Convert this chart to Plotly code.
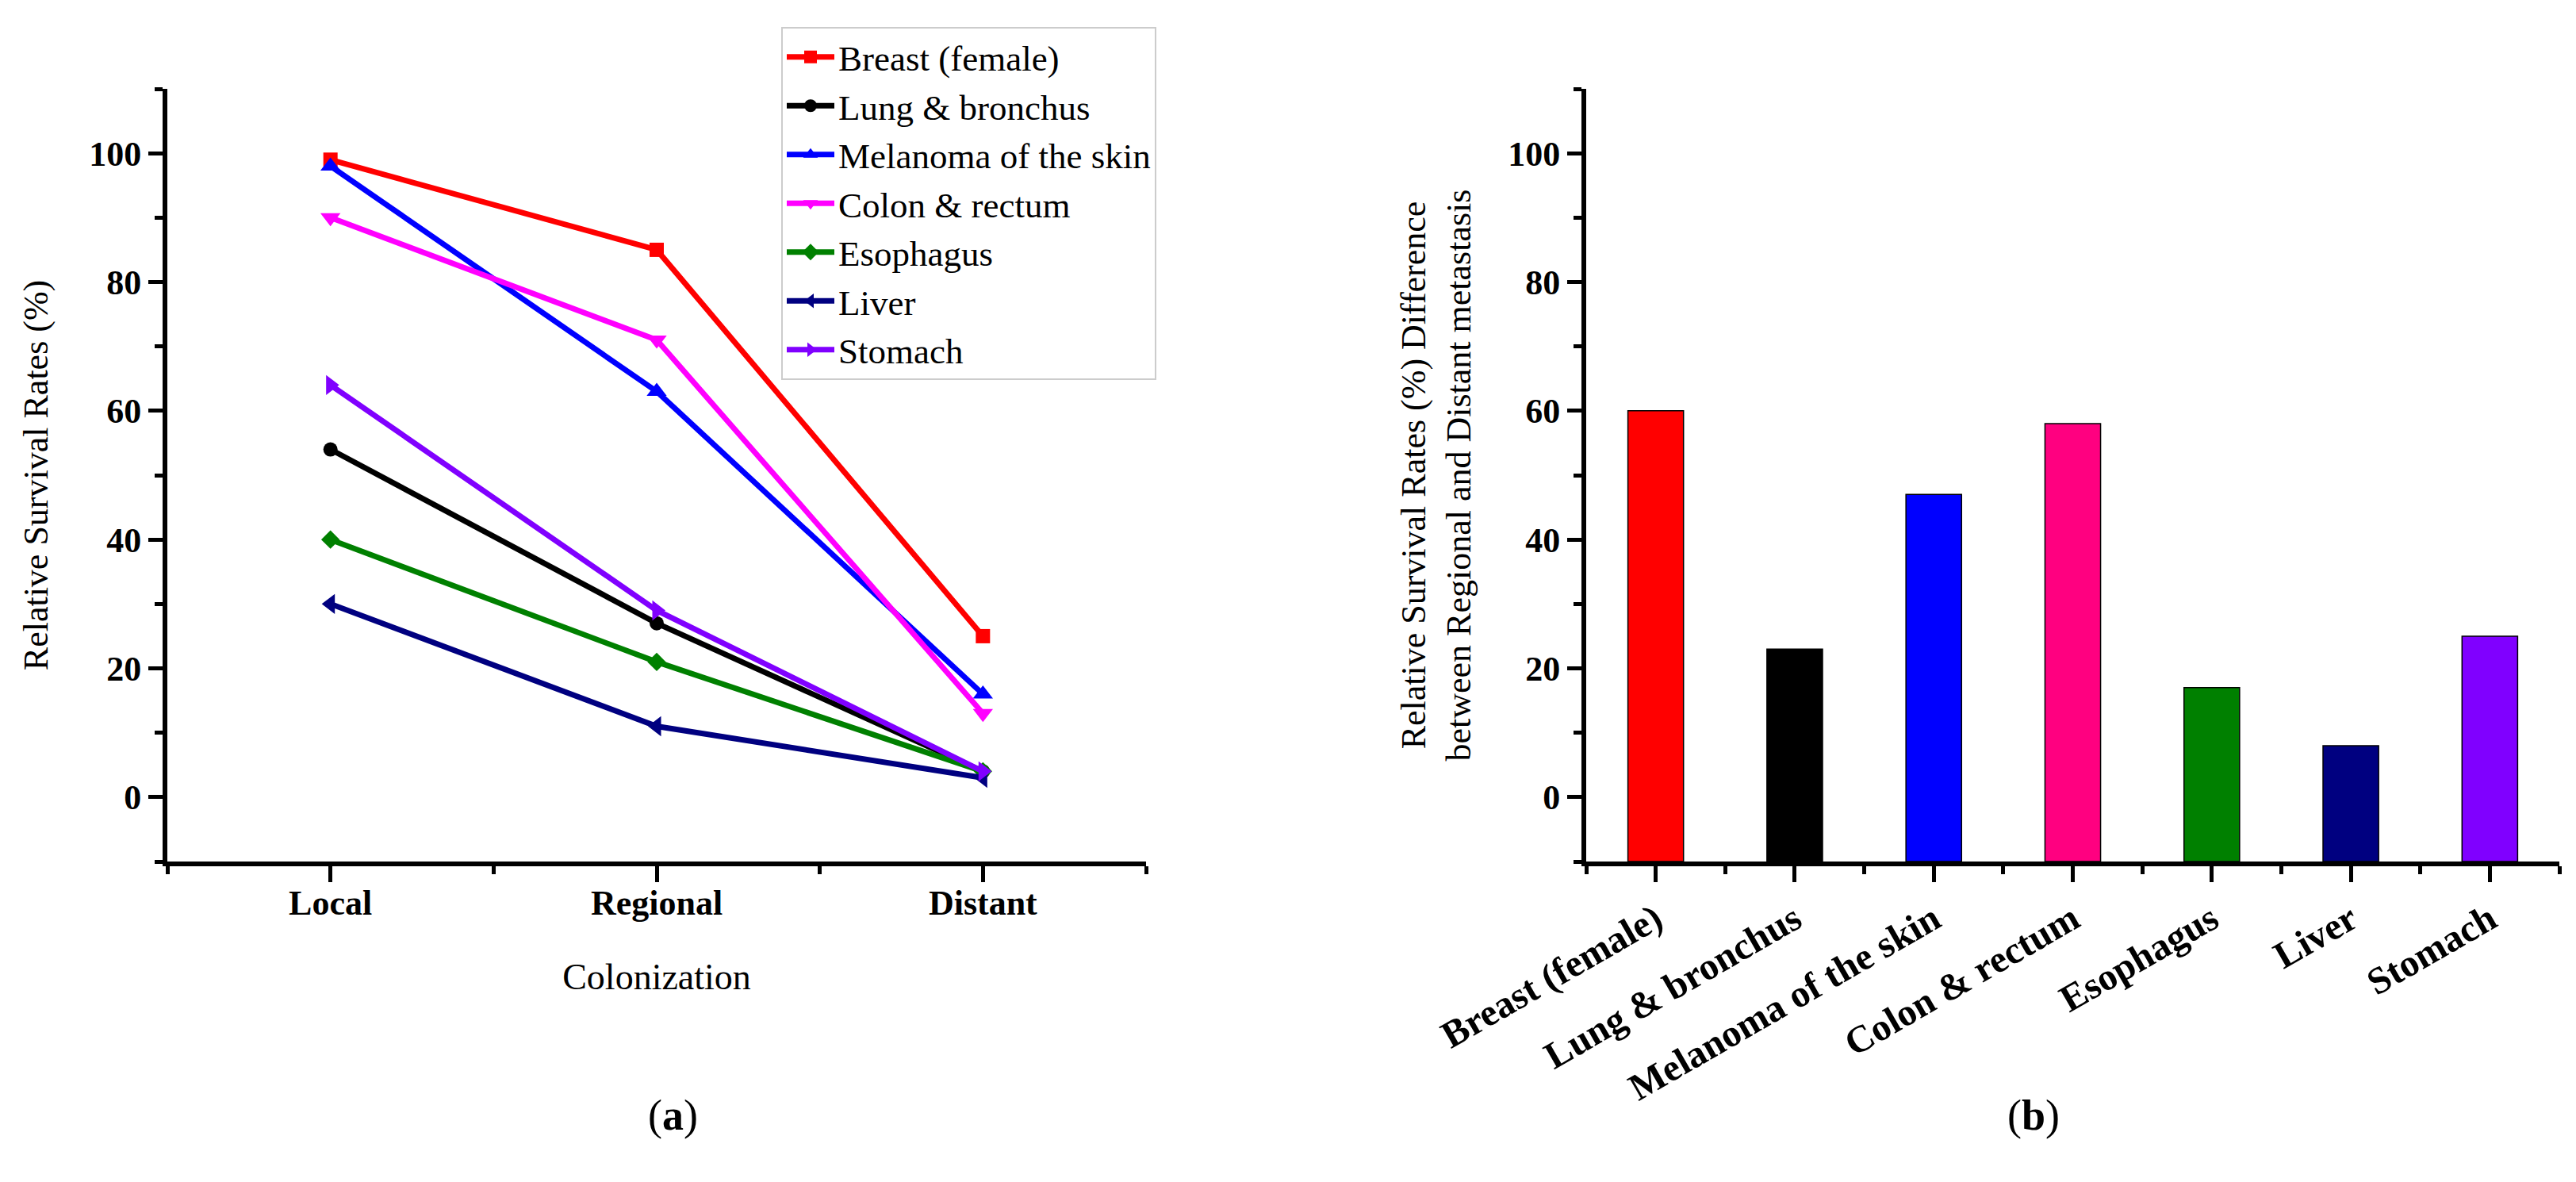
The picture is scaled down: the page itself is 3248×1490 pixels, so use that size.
import plotly.graph_objects as go

# ---------------- data ----------------
stages = ["Local", "Regional", "Distant"]
cancers = ["Breast (female)", "Lung & bronchus", "Melanoma of the skin",
           "Colon & rectum", "Esophagus", "Liver", "Stomach"]

breast = [99, 85, 25]
lung = [54, 27, 4]
melanoma = [98, 63, 16]
colon = [90, 71, 13]
esophagus = [40, 21, 4]
liver = [30, 11, 3]
stomach = [64, 29, 4]

# difference between Regional and Distant survival rates
difference = [60, 23, 47, 58, 17, 8, 25]

y_ticks = [0, 20, 40, 60, 80, 100]
y_range = [-10, 110]

# ---------------- styles ----------------
series = [breast, lung, melanoma, colon, esophagus, liver, stomach]
line_colors = ["#FF0000", "#000000", "#0000FF", "#FF00FF", "#008000", "#000080", "#8000FF"]
bar_colors = ["#FF0000", "#000000", "#0000FF", "#FF0080", "#008000", "#000080", "#8000FF"]
symbols = ["square", "circle", "triangle-up", "triangle-down", "diamond",
           "triangle-left", "triangle-right"]
marker_sizes = [18, 18, 22, 22, 18, 22, 22]

W, H = 3248, 1490
FONT = "Liberation Serif"

fig = go.Figure()

xs_stage = list(range(len(stages)))
for name, vals, col, sym, ms in zip(cancers, series, line_colors, symbols, marker_sizes):
    fig.add_trace(go.Scatter(
        x=xs_stage, y=vals, name=name, mode="lines+markers",
        line=dict(color=col, width=7),
        marker=dict(symbol=sym, size=ms, color=col),
        xaxis="x", yaxis="y",
    ))

# bars rise from the bottom of the axis (as in the original Origin plot)
xs_cancer = list(range(len(cancers)))
bar_base = y_range[0]
fig.add_trace(go.Bar(
    x=xs_cancer, y=[d - bar_base for d in difference], base=bar_base,
    width=0.4, showlegend=False,
    marker=dict(color=bar_colors, line=dict(color="#000000", width=1.5)),
    xaxis="x2", yaxis="y2",
))

y_dom = [1 - 1078 / H, 1 - 104 / H]

axis_common = dict(
    showline=True, linewidth=6, linecolor="#000000",
    ticks="outside", tickwidth=5, tickcolor="#000000",
    showgrid=False, zeroline=False, automargin=False,
)

fig.update_layout(
    width=W, height=H,
    margin=dict(l=0, r=0, t=0, b=0),
    paper_bgcolor="white", plot_bgcolor="white",
    font=dict(family=FONT, color="#000000"),
    xaxis=dict(
        domain=[203 / W, 1437 / W], anchor="y",
        range=[-0.5, 2.5], tickvals=xs_stage, ticktext=stages,
        ticklen=20, ticklabelstandoff=-12,
        tickfont=dict(family=FONT, size=44, weight="bold"),
        minor=dict(tickvals=[-0.5, 0.5, 1.5, 2.5], ticks="outside",
                   ticklen=10, tickwidth=5, tickcolor="#000000"),
        title=dict(text="Colonization", font=dict(family=FONT, size=46), standoff=55),
        **axis_common,
    ),
    yaxis=dict(
        domain=y_dom, anchor="x",
        range=y_range, tickvals=y_ticks, ticklen=18,
        tickfont=dict(family=FONT, size=44, weight="bold"),
        minor=dict(dtick=10, tick0=0, ticks="outside",
                   ticklen=10, tickwidth=5, tickcolor="#000000"),
        title=dict(text="Relative Survival Rates (%)", font=dict(family=FONT, size=44),
                   standoff=40),
        **axis_common,
    ),
    xaxis2=dict(
        domain=[1992 / W, 3219 / W], anchor="y2",
        range=[-0.5, 6.5], tickvals=xs_cancer, ticktext=cancers,
        tickangle=-30, ticklen=20,
        tickfont=dict(family=FONT, size=48, weight="bold"),
        minor=dict(tickvals=[i - 0.5 for i in range(len(cancers) + 1)], ticks="outside",
                   ticklen=10, tickwidth=5, tickcolor="#000000"),
        **axis_common,
    ),
    yaxis2=dict(
        domain=y_dom, anchor="x2",
        range=y_range, tickvals=y_ticks, ticklen=18,
        tickfont=dict(family=FONT, size=44, weight="bold"),
        minor=dict(dtick=10, tick0=0, ticks="outside",
                   ticklen=10, tickwidth=5, tickcolor="#000000"),
        title=dict(text="Relative Survival Rates (%) Difference<br>between Regional and Distant metastasis",
                   font=dict(family=FONT, size=44), standoff=35),
        **axis_common,
    ),
    legend=dict(
        x=977 / W, y=1 - 26 / H, xanchor="left", yanchor="top",
        bgcolor="white", bordercolor="#CCCCCC", borderwidth=2,
        font=dict(family=FONT, size=45, color="#000000"),
        itemwidth=60,
    ),
    annotations=[
        dict(text="(<b>a</b>)", x=807 / W, y=1 - 1430 / H, xref="paper", yref="paper",
             showarrow=False, font=dict(family=FONT, size=54)),
        dict(text="(<b>b</b>)", x=2591 / W, y=1 - 1430 / H, xref="paper", yref="paper",
             showarrow=False, font=dict(family=FONT, size=54)),
    ],
)

fig.write_html("out.html")
